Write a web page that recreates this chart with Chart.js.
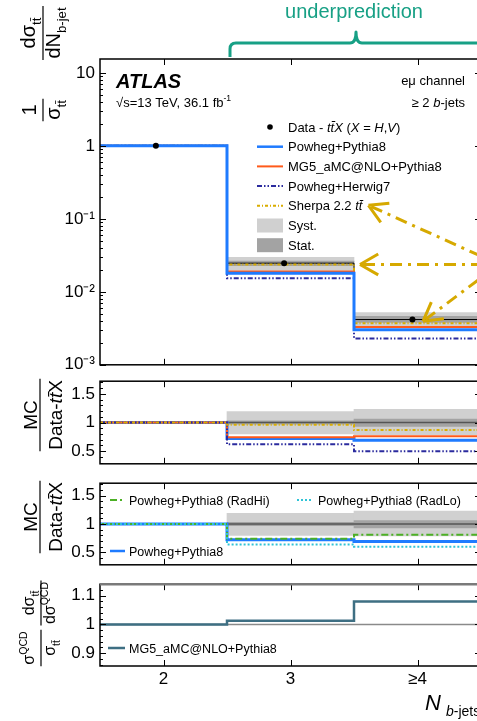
<!DOCTYPE html>
<html>
<head>
<meta charset="utf-8">
<script src="https://cdn.jsdelivr.net/npm/chart.js@4.4.1/dist/chart.umd.min.js"></script>
<style>
  html, body { margin: 0; padding: 0; background: #fff; overflow: hidden; }
  #wrap { position: relative; width: 477px; height: 721px; overflow: hidden; }
  canvas { position: absolute; left: 0; }
</style>
</head>
<body>
<div id="wrap">
  <canvas id="main" width="490" height="380" style="top:0px"></canvas>
  <canvas id="ratio1" width="490" height="113" style="top:366px"></canvas>
  <canvas id="ratio2" width="490" height="112" style="top:468px"></canvas>
  <canvas id="qcd" width="490" height="152" style="top:569px"></canvas>
</div>
<script>
// N_b-jets bins
const binCenters = [2, 3, 4];
const binEdges = [1.5, 2.5, 3.5, 4.5];
const xTickLabels = ['2', '3', '≥4'];

// top panel: normalised cross-section
const yTickVals = [0.001, 0.01, 0.1, 1, 10];
const yTickLabels = ['10⁻³', '10⁻²', '10⁻¹', '1', '10'];
const dataX = [1.94, 2.95, 3.96];
const dataVals = [1, 0.0247, 0.00417];
const systLo = [null, 0.0197, 0.0033];
const systHi = [null, 0.0298, 0.0052];
const statLo = [null, 0.0229, 0.0038];
const statHi = [null, 0.0263, 0.0046];
const powPy8 = [1, 0.0180, 0.00302];
const mg5Py8 = [1, 0.0190, 0.0033];
const powHw7 = [1, 0.0154, 0.0023];
const sherpa = [1, 0.0237, 0.0037];

// MC / data ratios
const ratioTickVals = [0.5, 1, 1.5];
const ratioTickLabels = ['0.5', '1', '1.5'];
const ratioData = [1, 1, 1];
const rSystLo = [null, 0.80, 0.79];
const rSystHi = [null, 1.19, 1.23];
const rStatLo = [null, 0.97, 0.93];
const rStatHi = [null, 1.03, 1.06];
const rPowPy8 = [1, 0.72, 0.69];
const rMg5Py8 = [1, 0.745, 0.76];
const rPowHw7 = [1, 0.62, 0.50];
const rSherpa = [1, 0.96, 0.87];
const rRadHi = [1, 0.74, 0.81];
const rRadLo = [1, 0.64, 0.60];

// QCD-only over full, MG5_aMC@NLO+Pythia8
const qcdTickVals = [0.9, 1, 1.1];
const qcdTickLabels = ['0.9', '1', '1.1'];
const qcdRef = [1, 1, 1];
const qcdRatio = [1, 1.013, 1.08];

const FONT = '"Liberation Sans", Arial, Helvetica, sans-serif';
Chart.defaults.font.family = FONT;
Chart.defaults.color = '#000';

const TT = 'tt\u0304';
const ST = {
  powPy8: { color: '#1f7bff', width: 3, dash: [] },
  mg5: { color: '#ff5a1a', width: 2, dash: [] },
  hw7: { color: '#2b2b9e', width: 2, dash: [5, 2, 1.5, 2, 1.5, 2] },
  sherpa: { color: '#d9ad00', width: 2, dash: [3, 2, 1, 2] },
  radHi: { color: '#4cb025', width: 2, dash: [7, 3, 2, 3] },
  radLo: { color: '#2fc3d6', width: 2, dash: [2, 2] },
  qcd: { color: '#3e6f83', width: 2.5, dash: [] },
};
const SYST = '#d0d0d0', STAT = '#a3a3a3';

function steps(vals) {
  const pts = vals.map((v, i) => ({ x: binEdges[i], y: v }));
  pts.push({ x: binEdges[vals.length], y: vals[vals.length - 1] });
  return pts;
}
function stepLine(vals, st, order) {
  return { type: 'line', data: steps(vals), borderColor: st.color, borderWidth: st.width,
    borderDash: st.dash, stepped: 'before', pointRadius: 0, fill: false, order };
}
function band(lo, hi, color, order) {
  const pts = [];
  binCenters.forEach((x, i) => { if (lo[i] != null) pts.push({ x, y: [lo[i], hi[i]] }); });
  return { type: 'bar', data: pts, backgroundColor: color, borderWidth: 0,
    barPercentage: 1, categoryPercentage: 1, grouped: false, order };
}

// --- text helpers ---
const T = (t, o = {}) => Object.assign({ t }, o);
function fontFor(p, size) {
  const s = (p.sub || p.sup) ? size * 0.66 : size;
  return (p.i ? 'italic ' : '') + (p.b ? 'bold ' : '') + s + 'px ' + FONT;
}
function runWidth(ctx, parts, size) {
  let w = 0;
  for (const p of parts) { ctx.font = fontFor(p, size); w += ctx.measureText(p.t).width; }
  return w;
}
function textRun(ctx, parts, x, y, size, align) {
  const w = runWidth(ctx, parts, size);
  let cx = align === 'right' ? x - w : align === 'center' ? x - w / 2 : x;
  ctx.textAlign = 'left';
  ctx.textBaseline = 'alphabetic';
  for (const p of parts) {
    ctx.font = fontFor(p, size);
    const dy = p.sub ? size * 0.3 : p.sup ? -size * 0.42 : 0;
    ctx.fillText(p.t, cx, y + dy);
    cx += ctx.measureText(p.t).width;
  }
  return cx;
}
function vFraction(ctx, barX, midY, num, den, size, numOff, denOff) {
  ctx.save();
  ctx.translate(barX, midY);
  ctx.rotate(-Math.PI / 2);
  ctx.fillStyle = '#000';
  const w = Math.max(runWidth(ctx, num, size), runWidth(ctx, den, size)) + 3;
  textRun(ctx, num, 0, -numOff, size, 'center');
  textRun(ctx, den, 0, denOff, size, 'center');
  ctx.strokeStyle = '#000';
  ctx.lineWidth = 1.2;
  ctx.beginPath(); ctx.moveTo(-w / 2, 0); ctx.lineTo(w / 2, 0); ctx.stroke();
  ctx.restore();
}
function legendLine(ctx, x0, x1, y, st) {
  ctx.save();
  ctx.strokeStyle = st.color; ctx.lineWidth = Math.min(st.width, 2.5); ctx.setLineDash(st.dash);
  ctx.beginPath(); ctx.moveTo(x0, y); ctx.lineTo(x1, y); ctx.stroke();
  ctx.restore();
}
function arrow(ctx, tx, ty, ang, len) {
  const c = Math.cos(ang), s = Math.sin(ang);
  ctx.save();
  ctx.strokeStyle = '#d6a900'; ctx.lineWidth = 3; ctx.lineCap = 'butt';
  ctx.setLineDash([12, 6, 3, 6]);
  ctx.beginPath(); ctx.moveTo(tx + 3 * c, ty + 3 * s); ctx.lineTo(tx + len * c, ty + len * s); ctx.stroke();
  ctx.setLineDash([]);
  ctx.beginPath();
  for (const d of [-0.52, 0.52]) {
    ctx.moveTo(tx, ty);
    ctx.lineTo(tx + 21 * Math.cos(ang + d), ty + 21 * Math.sin(ang + d));
  }
  ctx.stroke();
  ctx.restore();
}

// inward ticks on all four sides and the frame
function frameTicks(yMajor, yMinor, topColor) {
  return {
    id: 'frameTicks',
    afterDatasetsDraw(chart) {
      const { ctx, chartArea: a, scales: { x, y } } = chart;
      ctx.save();
      ctx.strokeStyle = '#000';
      ctx.lineWidth = 1;
      ctx.beginPath();
      for (const v of binCenters) {
        const px = Math.round(x.getPixelForValue(v)) + 0.5;
        ctx.moveTo(px, a.bottom); ctx.lineTo(px, a.bottom - 6);
        ctx.moveTo(px, a.top); ctx.lineTo(px, a.top + 6);
      }
      const yt = (vals, len) => {
        for (const v of vals) {
          const py = Math.round(y.getPixelForValue(v)) + 0.5;
          ctx.moveTo(a.left, py); ctx.lineTo(a.left + len, py);
          ctx.moveTo(a.right, py); ctx.lineTo(a.right - len, py);
        }
      };
      yt(yMajor, 6);
      yt(yMinor, 3);
      ctx.stroke();
      ctx.lineWidth = 1.5;
      ctx.strokeRect(a.left, a.top, a.width, a.height);
      if (topColor) {
        ctx.strokeStyle = topColor; ctx.lineWidth = 2.5;
        ctx.beginPath(); ctx.moveTo(a.left, a.top); ctx.lineTo(a.right, a.top); ctx.stroke();
      }
      ctx.restore();
    }
  };
}

function makeChart(id, datasets, yOpts, padding, showX, plugins) {
  return new Chart(document.getElementById(id), {
    type: 'line',
    data: { datasets },
    options: {
      responsive: false,
      animation: false,
      events: [],
      layout: { padding },
      plugins: { legend: { display: false }, tooltip: { enabled: false } },
      scales: {
        x: {
          type: 'linear', min: 1.5, max: 4.5, offset: false, display: showX,
          afterBuildTicks: (s) => { s.ticks = binCenters.map((v) => ({ value: v })); },
          afterFit: (s) => { if (showX) s.height = 55; },
          grid: { display: false, drawTicks: false },
          border: { display: false },
          ticks: { font: { size: 17 }, padding: 3, maxRotation: 0, callback: (v, i) => xTickLabels[i] },
        },
        y: Object.assign({
          afterFit: (s) => { s.width = 100; },
          grid: { display: false, drawTicks: false },
          border: { display: false },
        }, yOpts),
      },
    },
    plugins,
  });
}

function fixedTicks(vals, labels) {
  return {
    afterBuildTicks: (s) => { s.ticks = vals.map((v) => ({ value: v })); },
    ticks: { font: { size: 17 }, padding: 5, callback: (v, i) => labels[i] },
  };
}

// minor tick positions
const logMinor = [];
for (let d = -3; d <= 1; d++) for (let m = 2; m <= 9; m++) if (m * Math.pow(10, d) < 15.5) logMinor.push(m * Math.pow(10, d));
const ratioMinor = [];
for (let k = 3; k <= 17; k++) if (k % 5 !== 0) ratioMinor.push(k / 10);
const qcdMinor = [];
for (let k = 43; k <= 57; k++) if (k % 5 !== 0) qcdMinor.push(k / 50);

// ---------- top panel ----------
const mainDecor = {
  id: 'mainDecor',
  afterDraw(chart) {
    const { ctx, scales: { x, y } } = chart;
    ctx.save();
    ctx.fillStyle = '#000';
    textRun(ctx, [T('ATLAS', { b: 1, i: 1 })], 116, 88, 20);
    textRun(ctx, [T('√s=13 TeV, 36.1 fb'), T('-1', { sup: 1 })], 116, 106.5, 13);
    textRun(ctx, [T('eμ channel')], 465, 85, 13, 'right');
    textRun(ctx, [T('≥ 2 '), T('b', { i: 1 }), T('-jets')], 465, 107, 13, 'right');

    // legend
    const lx0 = 257, lx1 = 283, tx = 288, ry = (k) => 127 + 19.7 * k;
    ctx.beginPath(); ctx.arc(270, ry(0), 2.8, 0, Math.PI * 2); ctx.fill();
    textRun(ctx, [T('Data - '), T(TT + 'X', { i: 1 }), T(' ('), T('X', { i: 1 }), T(' = '),
      T('H', { i: 1 }), T(','), T('V', { i: 1 }), T(')')], tx, ry(0) + 4.6, 13);
    legendLine(ctx, lx0, lx1, ry(1), ST.powPy8);
    textRun(ctx, [T('Powheg+Pythia8')], tx, ry(1) + 4.6, 13);
    legendLine(ctx, lx0, lx1, ry(2), ST.mg5);
    textRun(ctx, [T('MG5_aMC@NLO+Pythia8')], tx, ry(2) + 4.6, 13);
    legendLine(ctx, lx0, lx1, ry(3), ST.hw7);
    textRun(ctx, [T('Powheg+Herwig7')], tx, ry(3) + 4.6, 13);
    legendLine(ctx, lx0, lx1, ry(4), ST.sherpa);
    const sherpaEnd = textRun(ctx, [T('Sherpa 2.2 '), T(TT, { i: 1 })], tx, ry(4) + 4.6, 13);
    ctx.fillStyle = SYST; ctx.fillRect(lx0, ry(5) - 7, lx1 - lx0, 14);
    ctx.fillStyle = STAT; ctx.fillRect(lx0, ry(6) - 7, lx1 - lx0, 14);
    ctx.fillStyle = '#000';
    textRun(ctx, [T('Syst.')], tx, ry(5) + 4.6, 13);
    textRun(ctx, [T('Stat.')], tx, ry(6) + 4.6, 13);

    // y title
    vFraction(ctx, 43, 110, [T('1')], [T('σ'), T(TT, { sub: 1 })], 20, 7, 17);
    vFraction(ctx, 43, 33, [T('dσ'), T(TT, { sub: 1 })], [T('dN'), T('b-jet', { sub: 1 })], 20, 8, 17);

    // annotation: underprediction brace
    const teal = '#17a085';
    const xl = x.getPixelForValue(2.5) + 3, xc = x.getPixelForValue(3.5) + 2, xr = x.getPixelForValue(4.5) + 3;
    ctx.strokeStyle = teal; ctx.lineWidth = 3; ctx.lineJoin = 'round';
    ctx.beginPath();
    ctx.moveTo(xl, 57); ctx.lineTo(xl, 49); ctx.quadraticCurveTo(xl, 43, xl + 6, 43);
    ctx.lineTo(xc - 6, 43); ctx.quadraticCurveTo(xc, 43, xc, 32); ctx.quadraticCurveTo(xc, 43, xc + 6, 43);
    ctx.lineTo(xr - 6, 43); ctx.quadraticCurveTo(xr, 43, xr, 49); ctx.lineTo(xr, 57);
    ctx.stroke();
    ctx.fillStyle = teal;
    textRun(ctx, [T('underprediction')], xc - 2, 18, 20, 'center');

    // arrows pointing at Sherpa
    arrow(ctx, sherpaEnd + 6, ry(4) - 0.5, Math.atan2(47, 104), 140);
    arrow(ctx, x.getPixelForValue(3.5) + 6, y.getPixelForValue(sherpa[1]), 0, 140);
    arrow(ctx, x.getPixelForValue(4) + 5.5, y.getPixelForValue(sherpa[2]) - 2, Math.atan2(-40.7, 54.3), 120);
    ctx.restore();
  }
};

makeChart('main', [
  band(systLo, systHi, SYST, 20),
  band(statLo, statHi, STAT, 19),
  { type: 'line', data: steps(dataVals), borderColor: '#000', borderWidth: 1, stepped: 'before', pointRadius: 0, order: 10 },
  stepLine(mg5Py8, ST.mg5, 7),
  stepLine(powHw7, ST.hw7, 6),
  stepLine(sherpa, ST.sherpa, 5),
  stepLine(powPy8, ST.powPy8, 4),
  { type: 'line', data: dataVals.map((v, i) => ({ x: dataX[i], y: v })), showLine: false,
    pointRadius: 3, pointBackgroundColor: '#000', pointBorderWidth: 0, order: 0 },
], Object.assign({ type: 'logarithmic', min: 0.001, max: 15.5 }, fixedTicks(yTickVals, yTickLabels)),
{ top: 59, bottom: 15, left: 0, right: 9 }, false,
[frameTicks(yTickVals, logMinor), mainDecor]);

// ---------- ratio panel 1 ----------
const ratioTitle = (yc) => ({
  id: 'ratioTitle',
  afterDraw(chart) {
    vFraction(chart.ctx, 40, yc, [T('MC')], [T('Data-'), T(TT, { i: 1 }), T('X')], 19, 3, 22);
  }
});

makeChart('ratio1', [
  band(rSystLo, rSystHi, SYST, 20),
  band(rStatLo, rStatHi, STAT, 19),
  { type: 'line', data: steps(ratioData), borderColor: '#555', borderWidth: 1.5, stepped: 'before', pointRadius: 0, order: 10 },
  stepLine(rPowPy8, ST.powPy8, 8),
  stepLine(rMg5Py8, ST.mg5, 7),
  stepLine(rPowHw7, ST.hw7, 6),
  stepLine(rSherpa, ST.sherpa, 5),
], Object.assign({ type: 'linear', min: 0.28, max: 1.72 }, fixedTicks(ratioTickVals, ratioTickLabels)),
{ top: 13, bottom: 15, left: 0, right: 9 }, false,
[frameTicks(ratioTickVals, ratioMinor), ratioTitle(49)]);

// ---------- ratio panel 2 (radiation variations) ----------
const ratio2Legend = {
  id: 'ratio2Legend',
  afterDraw(chart) {
    const ctx = chart.ctx;
    ctx.save();
    ctx.fillStyle = '#000';
    legendLine(ctx, 110, 125, 32, ST.radHi);
    textRun(ctx, [T('Powheg+Pythia8 (RadHi)')], 129, 36.5, 12.5);
    legendLine(ctx, 297, 313, 32, ST.radLo);
    textRun(ctx, [T('Powheg+Pythia8 (RadLo)')], 318, 36.5, 12.5);
    legendLine(ctx, 110, 125, 83, ST.powPy8);
    textRun(ctx, [T('Powheg+Pythia8')], 129, 87.5, 12.5);
    ctx.restore();
  }
};

makeChart('ratio2', [
  band(rSystLo, rSystHi, SYST, 20),
  band(rStatLo, rStatHi, STAT, 19),
  { type: 'line', data: steps(ratioData), borderColor: '#555', borderWidth: 1.5, stepped: 'before', pointRadius: 0, order: 10 },
  stepLine(rRadHi, ST.radHi, 7),
  stepLine(rPowPy8, ST.powPy8, 8),
  stepLine(rRadLo, ST.radLo, 6),
], Object.assign({ type: 'linear', min: 0.28, max: 1.72 }, fixedTicks(ratioTickVals, ratioTickLabels)),
{ top: 13, bottom: 15, left: 0, right: 9 }, false,
[frameTicks(ratioTickVals, ratioMinor), ratioTitle(49), ratio2Legend]);

// ---------- QCD-only ratio panel ----------
const qcdDecor = {
  id: 'qcdDecor',
  afterDraw(chart) {
    const ctx = chart.ctx;
    ctx.save();
    ctx.fillStyle = '#000';
    legendLine(ctx, 108, 125, 79, ST.qcd);
    textRun(ctx, [T('MG5_aMC@NLO+Pythia8')], 129, 83.5, 12.5);
    vFraction(ctx, 41, 34, [T('dσ'), T(TT, { sub: 1 })], [T('dσ'), T('QCD', { sup: 1 })], 16, 7, 14);
    vFraction(ctx, 41, 79, [T('σ'), T('QCD', { sup: 1 })], [T('σ'), T(TT, { sub: 1 })], 16, 7, 14);
    textRun(ctx, [T('N', { i: 1 })], 425, 141, 22);
    textRun(ctx, [T('b', { i: 1 }), T('-jets')], 446, 147, 14);
    ctx.restore();
  }
};

makeChart('qcd', [
  { type: 'line', data: steps(qcdRef), borderColor: '#8a8a8a', borderWidth: 1.5, stepped: 'before', pointRadius: 0, order: 10 },
  stepLine(qcdRatio, ST.qcd, 5),
], Object.assign({ type: 'linear', min: 0.855, max: 1.14 }, fixedTicks(qcdTickVals, qcdTickLabels)),
{ top: 14, bottom: 0, left: 0, right: 9 }, true,
[frameTicks(qcdTickVals, qcdMinor, '#7a7a7a'), qcdDecor]);
</script>
</body>
</html>
